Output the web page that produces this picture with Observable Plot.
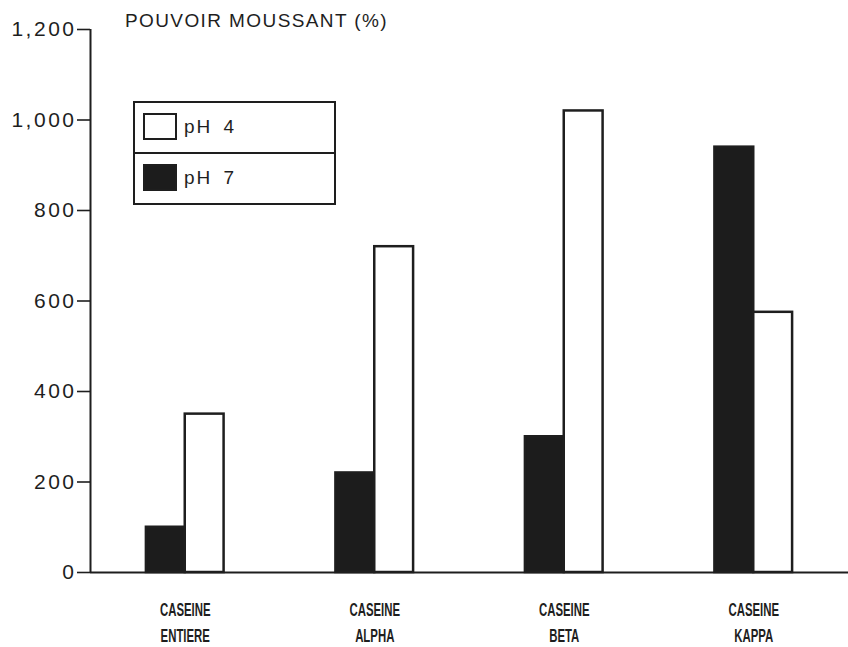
<!DOCTYPE html>
<html>
<head>
<meta charset="utf-8">
<script src="https://cdn.jsdelivr.net/npm/d3@7"></script>
<script src="https://cdn.jsdelivr.net/npm/@observablehq/plot@0.6"></script>
<style>
  html, body { margin: 0; padding: 0; background: #fff; }
  #wrap { position: relative; width: 848px; height: 647px; overflow: hidden; }
  #title { position: absolute; left: 125px; top: 11px; font: 19px "Liberation Sans", Arial, sans-serif; letter-spacing: 1.4px; color: #1e1e1e; line-height: 1; white-space: nowrap; }
  #legend { position: absolute; left: 133px; top: 101px; width: 199px; border: 2px solid #1e1e1e; background: #fff; }
  #legend .row { position: relative; height: 49px; }
  #legend .row + .row { border-top: 2px solid #1e1e1e; }
  #legend .sw { position: absolute; left: 8px; top: 10px; width: 30px; height: 23px; border: 2px solid #1e1e1e; }
  #legend .lab { position: absolute; left: 49px; top: 14px; font: 19px "Liberation Sans", Arial, sans-serif; letter-spacing: 2px; word-spacing: 4px; color: #1e1e1e; line-height: 1; }
  svg [aria-label="y-axis tick label"] { letter-spacing: 2.5px; }
</style>
</head>
<body>
<div id="wrap">
  <div id="chart"></div>
  <div id="title"></div>
  <div id="legend"></div>
</div>
<script>
// ---- data ----
const categories = ["CASEINE\nENTIERE", "CASEINE\nALPHA", "CASEINE\nBETA", "CASEINE\nKAPPA"];
const series = ["pH 7", "pH 4"];
const ph7Values = [100, 220, 300, 940];
const ph4Values = [350, 720, 1020, 575];
const yTicks = [0, 200, 400, 600, 800, 1000, 1200];
const legendOrder = ["pH 4", "pH 7"];
const titleText = "POUVOIR MOUSSANT (%)";

const valuesBySeries = {"pH 7": ph7Values, "pH 4": ph4Values};
const seriesColors = ["#1c1c1c", "#ffffff"];
const ink = "#1e1e1e";

const rows = categories.flatMap((c, i) =>
  series.map((s, j) => ({i, j, cat: c, series: s, value: valuesBySeries[s][i]})));

const xDomain = [-0.5, categories.length - 0.5];
const yDomain = [0, 1200];
const barW = 0.205;

const chart = Plot.plot({
  width: 848,
  height: 647,
  marginLeft: 90,
  marginRight: 0,
  marginTop: 29,
  marginBottom: 75,
  style: {fontFamily: "'Liberation Sans', Arial, sans-serif", color: ink, background: "#fff"},
  x: {domain: xDomain, axis: null},
  y: {domain: yDomain, axis: null},
  color: {domain: series, range: seriesColors},
  marks: [
    Plot.rect(rows, {
      x1: d => d.i + (d.j - 1) * barW,
      x2: d => d.i + d.j * barW,
      y1: 0,
      y2: "value",
      fill: "series",
      stroke: ink,
      strokeWidth: 2.5
    }),
    Plot.ruleX([xDomain[0]], {y1: yDomain[0], y2: yDomain[1], stroke: ink, strokeWidth: 2}),
    Plot.ruleY([0], {stroke: ink, strokeWidth: 2}),
    Plot.axisY(yTicks, {
      tickSize: 13, tickPadding: 1, strokeWidth: 1.6,
      tickFormat: d3.format(","), fontSize: 21, fill: ink, label: null
    }),
    Plot.axisX(categories.map((c, i) => i), {
      tickSize: 0, tickPadding: 25,
      tickFormat: i => categories[i],
      fontSize: 19, fontWeight: "bold", lineHeight: 1.37,
      fill: ink, label: null
    })
  ]
});
document.getElementById("chart").append(chart);

// condense the category labels horizontally, like the original lettering
chart.querySelectorAll('[aria-label="x-axis tick label"] text').forEach(t => {
  const x = +(t.getAttribute("x") || 0);
  const tr = t.getAttribute("transform") || "";
  t.setAttribute("transform", `${tr} translate(${x},0) scale(0.6,1) translate(${-x},0)`);
});

document.getElementById("title").textContent = titleText;

const legend = document.getElementById("legend");
legendOrder.forEach(s => {
  const row = document.createElement("div");
  row.className = "row";
  const sw = document.createElement("div");
  sw.className = "sw";
  sw.style.background = seriesColors[series.indexOf(s)];
  const lab = document.createElement("div");
  lab.className = "lab";
  lab.textContent = s;
  row.append(sw, lab);
  legend.append(row);
});
</script>
</body>
</html>
